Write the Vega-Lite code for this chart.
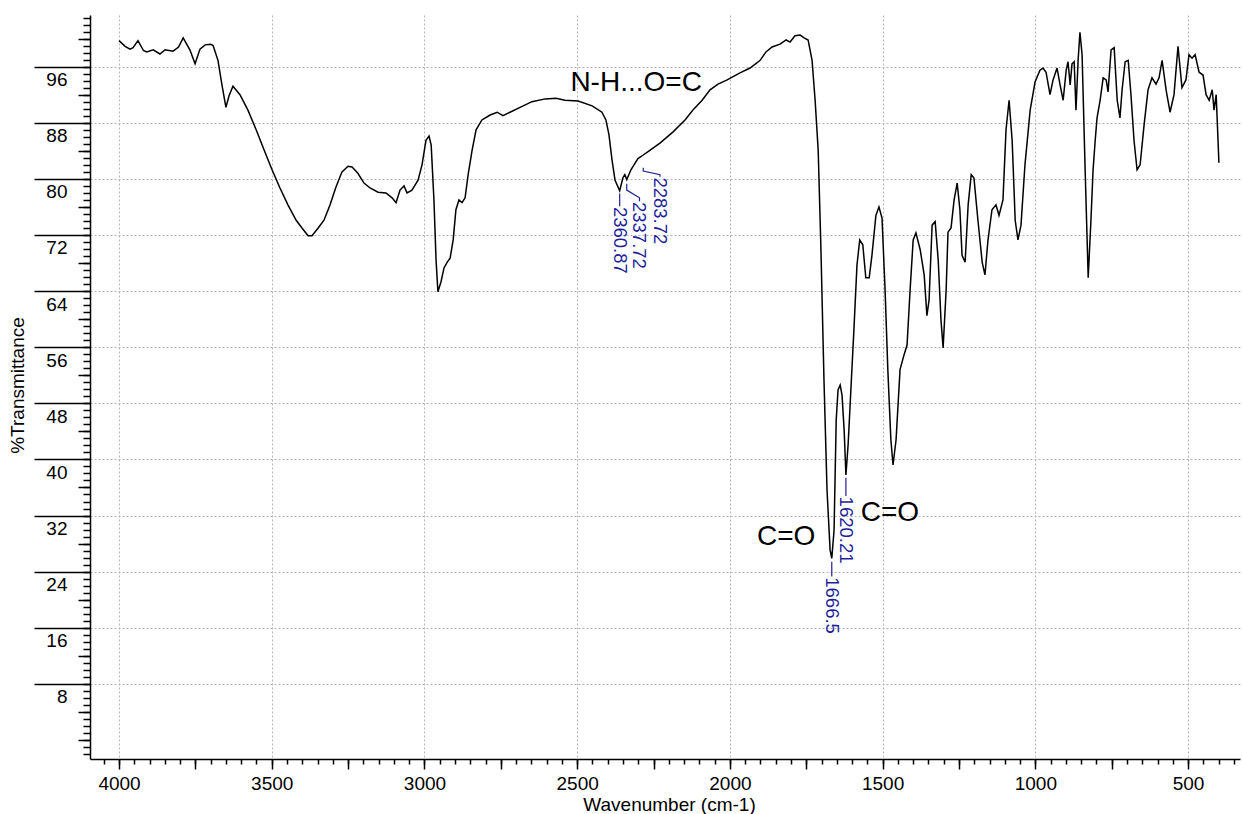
{
  "$schema": "https://vega.github.io/schema/vega-lite/v6.json",
  "width": 1150,
  "height": 744,
  "autosize": {"type": "none"},
  "padding": {"left": 90, "top": 15, "right": 2, "bottom": 55},
  "background": "white",
  "config": {"view": {"stroke": null}, "font": "Liberation Sans"},
  "datasets": {
    "spec": [
      {"w": 4000, "t": 99.7}, {"w": 3980, "t": 98.9}, {"w": 3964, "t": 98.5}, {"w": 3954, "t": 98.7}, {"w": 3938, "t": 99.7},
      {"w": 3920, "t": 98.3}, {"w": 3909, "t": 98.1}, {"w": 3888, "t": 98.4}, {"w": 3866, "t": 97.8}, {"w": 3849, "t": 98.4},
      {"w": 3823, "t": 98.2}, {"w": 3805, "t": 98.8}, {"w": 3790, "t": 100.1}, {"w": 3768, "t": 98.4}, {"w": 3751, "t": 96.4},
      {"w": 3735, "t": 98.5}, {"w": 3718, "t": 99.1}, {"w": 3700, "t": 99.2}, {"w": 3692, "t": 99.0}, {"w": 3676, "t": 96.9},
      {"w": 3663, "t": 93.4}, {"w": 3650, "t": 90.2}, {"w": 3640, "t": 91.8}, {"w": 3627, "t": 93.2}, {"w": 3604, "t": 92.0},
      {"w": 3578, "t": 89.8}, {"w": 3551, "t": 87.0}, {"w": 3525, "t": 84.1}, {"w": 3499, "t": 81.3}, {"w": 3473, "t": 78.7},
      {"w": 3447, "t": 76.3}, {"w": 3420, "t": 74.1}, {"w": 3401, "t": 73.0}, {"w": 3381, "t": 71.9}, {"w": 3368, "t": 71.9},
      {"w": 3348, "t": 73.0}, {"w": 3329, "t": 74.1}, {"w": 3309, "t": 76.3}, {"w": 3290, "t": 78.8}, {"w": 3270, "t": 81.0},
      {"w": 3250, "t": 81.8}, {"w": 3237, "t": 81.7}, {"w": 3218, "t": 80.8}, {"w": 3198, "t": 79.4}, {"w": 3178, "t": 78.7},
      {"w": 3152, "t": 78.1}, {"w": 3126, "t": 78.0}, {"w": 3106, "t": 77.3}, {"w": 3093, "t": 76.6}, {"w": 3080, "t": 78.4},
      {"w": 3067, "t": 79.0}, {"w": 3057, "t": 78.0}, {"w": 3041, "t": 78.4}, {"w": 3021, "t": 79.8}, {"w": 3008, "t": 82.0},
      {"w": 2995, "t": 85.5}, {"w": 2985, "t": 86.1}, {"w": 2978, "t": 84.8}, {"w": 2969, "t": 77.0}, {"w": 2962, "t": 68.4},
      {"w": 2956, "t": 63.9}, {"w": 2946, "t": 65.3}, {"w": 2936, "t": 67.3}, {"w": 2926, "t": 68.1}, {"w": 2916, "t": 68.7},
      {"w": 2906, "t": 71.3}, {"w": 2897, "t": 75.6}, {"w": 2887, "t": 77.0}, {"w": 2877, "t": 76.6}, {"w": 2867, "t": 77.3},
      {"w": 2857, "t": 80.6}, {"w": 2844, "t": 84.1}, {"w": 2831, "t": 87.0}, {"w": 2812, "t": 88.4}, {"w": 2785, "t": 89.1},
      {"w": 2762, "t": 89.5}, {"w": 2743, "t": 89.0}, {"w": 2720, "t": 89.5}, {"w": 2687, "t": 90.2}, {"w": 2648, "t": 91.0},
      {"w": 2605, "t": 91.4}, {"w": 2569, "t": 91.5}, {"w": 2540, "t": 91.2}, {"w": 2497, "t": 91.1}, {"w": 2451, "t": 90.4},
      {"w": 2419, "t": 89.5}, {"w": 2406, "t": 88.4}, {"w": 2396, "t": 86.3}, {"w": 2386, "t": 82.7}, {"w": 2376, "t": 79.8},
      {"w": 2360.87, "t": 78.3}, {"w": 2350, "t": 80.2}, {"w": 2344, "t": 80.6}, {"w": 2337.72, "t": 79.9}, {"w": 2324, "t": 81.3},
      {"w": 2314, "t": 82.0}, {"w": 2301, "t": 82.9}, {"w": 2283.72, "t": 83.4}, {"w": 2261, "t": 84.1}, {"w": 2229, "t": 85.1},
      {"w": 2186, "t": 86.7}, {"w": 2147, "t": 88.4}, {"w": 2121, "t": 89.8}, {"w": 2091, "t": 91.2}, {"w": 2065, "t": 92.7},
      {"w": 2039, "t": 93.5}, {"w": 2009, "t": 94.1}, {"w": 1967, "t": 95.1}, {"w": 1934, "t": 95.8}, {"w": 1901, "t": 96.9},
      {"w": 1882, "t": 98.1}, {"w": 1862, "t": 98.8}, {"w": 1836, "t": 99.2}, {"w": 1816, "t": 99.8}, {"w": 1803, "t": 99.5},
      {"w": 1787, "t": 100.4}, {"w": 1770, "t": 100.5}, {"w": 1757, "t": 100.1}, {"w": 1744, "t": 99.8}, {"w": 1731, "t": 96.9},
      {"w": 1721, "t": 91.2}, {"w": 1711, "t": 84.1}, {"w": 1702, "t": 70.0}, {"w": 1692, "t": 51.3}, {"w": 1682, "t": 35.6},
      {"w": 1672, "t": 27.1}, {"w": 1666.5, "t": 25.9}, {"w": 1659, "t": 29.9}, {"w": 1652, "t": 45.6}, {"w": 1646, "t": 49.9},
      {"w": 1639, "t": 50.6}, {"w": 1633, "t": 49.2}, {"w": 1626, "t": 44.2}, {"w": 1620.21, "t": 37.8}, {"w": 1613, "t": 42.1},
      {"w": 1604, "t": 49.9}, {"w": 1594, "t": 58.5}, {"w": 1584, "t": 67.7}, {"w": 1575, "t": 71.3}, {"w": 1565, "t": 70.6},
      {"w": 1555, "t": 65.9}, {"w": 1544, "t": 65.9}, {"w": 1535, "t": 69.1}, {"w": 1522, "t": 74.8}, {"w": 1512, "t": 76.0},
      {"w": 1502, "t": 74.4}, {"w": 1492, "t": 64.2}, {"w": 1483, "t": 52.8}, {"w": 1473, "t": 42.8}, {"w": 1466, "t": 39.2},
      {"w": 1456, "t": 42.8}, {"w": 1443, "t": 52.8}, {"w": 1430, "t": 54.9}, {"w": 1420, "t": 56.3}, {"w": 1410, "t": 64.2},
      {"w": 1400, "t": 71.3}, {"w": 1391, "t": 72.3}, {"w": 1377, "t": 69.9}, {"w": 1364, "t": 66.3}, {"w": 1355, "t": 60.5},
      {"w": 1348, "t": 62.7}, {"w": 1338, "t": 73.4}, {"w": 1328, "t": 73.9}, {"w": 1318, "t": 68.4}, {"w": 1309, "t": 59.9},
      {"w": 1302, "t": 55.9}, {"w": 1292, "t": 64.2}, {"w": 1286, "t": 72.4}, {"w": 1276, "t": 73.0}, {"w": 1266, "t": 77.0},
      {"w": 1256, "t": 79.4}, {"w": 1247, "t": 75.6}, {"w": 1240, "t": 69.1}, {"w": 1230, "t": 68.1}, {"w": 1220, "t": 76.3},
      {"w": 1210, "t": 80.6}, {"w": 1201, "t": 80.1}, {"w": 1188, "t": 74.1}, {"w": 1174, "t": 68.1}, {"w": 1165, "t": 66.3},
      {"w": 1155, "t": 71.3}, {"w": 1142, "t": 75.6}, {"w": 1129, "t": 76.3}, {"w": 1119, "t": 74.8}, {"w": 1106, "t": 77.0},
      {"w": 1096, "t": 87.0}, {"w": 1086, "t": 91.2}, {"w": 1076, "t": 85.5}, {"w": 1066, "t": 74.1}, {"w": 1057, "t": 71.3},
      {"w": 1047, "t": 73.4}, {"w": 1034, "t": 82.0}, {"w": 1017, "t": 89.8}, {"w": 1001, "t": 93.8}, {"w": 985, "t": 95.5},
      {"w": 975, "t": 95.8}, {"w": 965, "t": 95.2}, {"w": 952, "t": 92.0}, {"w": 942, "t": 94.1}, {"w": 929, "t": 95.8},
      {"w": 919, "t": 93.4}, {"w": 909, "t": 91.2}, {"w": 899, "t": 95.5}, {"w": 893, "t": 96.7}, {"w": 886, "t": 93.4},
      {"w": 880, "t": 96.4}, {"w": 873, "t": 96.7}, {"w": 867, "t": 89.8}, {"w": 860, "t": 96.9}, {"w": 854, "t": 100.9},
      {"w": 847, "t": 97.7}, {"w": 837, "t": 81.3}, {"w": 827, "t": 65.9}, {"w": 818, "t": 74.1}, {"w": 811, "t": 81.3},
      {"w": 804, "t": 85.5}, {"w": 798, "t": 88.7}, {"w": 788, "t": 91.2}, {"w": 778, "t": 94.4}, {"w": 768, "t": 94.1},
      {"w": 762, "t": 92.4}, {"w": 752, "t": 98.4}, {"w": 742, "t": 98.7}, {"w": 732, "t": 91.2}, {"w": 723, "t": 88.7},
      {"w": 716, "t": 92.7}, {"w": 706, "t": 96.7}, {"w": 696, "t": 96.9}, {"w": 687, "t": 92.0}, {"w": 677, "t": 85.5},
      {"w": 667, "t": 81.3}, {"w": 657, "t": 82.0}, {"w": 644, "t": 87.7}, {"w": 631, "t": 92.7}, {"w": 618, "t": 94.4},
      {"w": 605, "t": 93.5}, {"w": 595, "t": 94.4}, {"w": 585, "t": 96.9}, {"w": 572, "t": 92.7}, {"w": 559, "t": 89.5},
      {"w": 546, "t": 92.0}, {"w": 533, "t": 98.9}, {"w": 520, "t": 93.0}, {"w": 507, "t": 94.1}, {"w": 497, "t": 97.7},
      {"w": 487, "t": 97.2}, {"w": 477, "t": 97.7}, {"w": 464, "t": 95.2}, {"w": 451, "t": 94.8}, {"w": 441, "t": 92.0},
      {"w": 431, "t": 91.2}, {"w": 421, "t": 92.7}, {"w": 415, "t": 89.8}, {"w": 408, "t": 92.0}, {"w": 399, "t": 82.3}
    ],
    "leaders": [
      {"id": "a", "o": 1, "w": 1666.5, "t": 25.4}, {"id": "a", "o": 2, "w": 1666.5, "t": 23.3},
      {"id": "b", "o": 1, "w": 1620.21, "t": 37.4}, {"id": "b", "o": 2, "w": 1620.21, "t": 34.8},
      {"id": "c", "o": 1, "w": 2360.87, "t": 77.9}, {"id": "c", "o": 2, "w": 2360.87, "t": 76.1},
      {"id": "d", "o": 1, "w": 2337.72, "t": 79.3}, {"id": "d", "o": 2, "w": 2337.72, "t": 78.4},
      {"id": "d", "o": 3, "w": 2296, "t": 77.3}, {"id": "d", "o": 4, "w": 2296, "t": 76.8},
      {"id": "e", "o": 1, "w": 2283.72, "t": 81.6}, {"id": "e", "o": 2, "w": 2283.72, "t": 81.1},
      {"id": "e", "o": 3, "w": 2229, "t": 80.6}, {"id": "e", "o": 4, "w": 2229, "t": 80.3}
    ],
    "peaks": [
      {"label": "1666.5", "w": 1666.5, "t": 23.2},
      {"label": "1620.21", "w": 1620.21, "t": 34.7},
      {"label": "2360.87", "w": 2360.87, "t": 76.0},
      {"label": "2337.72", "w": 2296, "t": 76.7},
      {"label": "2283.72", "w": 2229, "t": 80.2}
    ],
    "notes": [
      {"label": "N-H...O=C", "w": 2307, "t": 93.6},
      {"label": "C=O", "w": 1816, "t": 29.0},
      {"label": "C=O", "w": 1476, "t": 32.4}
    ]
  },
  "resolve": {"axis": {"x": "independent", "y": "independent"}},
  "layer": [
    {
      "data": {"name": "spec"},
      "mark": {"type": "line", "color": "black", "strokeWidth": 1.5, "interpolate": "linear"},
      "encoding": {
        "x": {
          "field": "w", "type": "quantitative", "sort": null,
          "scale": {"domain": [330, 4095], "reverse": true, "nice": false, "zero": false},
          "axis": {
            "orient": "bottom",
            "values": [4000, 3500, 3000, 2500, 2000, 1500, 1000, 500],
            "format": "d",
            "grid": true, "gridColor": "#b4b4b4", "gridDash": [2, 2], "gridWidth": 1,
            "ticks": true, "tickSize": 10, "tickColor": "black", "tickWidth": 1.5,
            "domain": true, "domainColor": "black", "domainWidth": 1.5,
            "labelFont": "Liberation Sans", "labelFontSize": 19, "labelColor": "black", "labelPadding": 5,
            "labelFlush": false, "labelOverlap": false,
            "title": "Wavenumber (cm-1)", "titleFont": "Liberation Sans", "titleFontSize": 19,
            "titleFontWeight": "normal", "titleColor": "black",
            "titleX": 579, "titleY": 51, "titleAlign": "center", "titleBaseline": "alphabetic"
          }
        },
        "y": {
          "field": "t", "type": "quantitative",
          "scale": {"domain": [-2.71, 103.36], "nice": false, "zero": false},
          "axis": {
            "orient": "left",
            "values": [8, 16, 24, 32, 40, 48, 56, 64, 72, 80, 88, 96],
            "grid": true, "gridColor": "#b4b4b4", "gridDash": [2, 2], "gridWidth": 1,
            "ticks": true, "tickSize": 56, "tickColor": "black", "tickWidth": 1.5,
            "domain": true, "domainColor": "black", "domainWidth": 1.5,
            "labels": false,
            "title": "%Transmittance", "titleFont": "Liberation Sans", "titleFontSize": 19,
            "titleFontWeight": "normal", "titleColor": "black",
            "titleX": -73, "titleY": 370, "titleAngle": 270, "titleAlign": "center", "titleBaseline": "middle"
          }
        }
      }
    },
    {
      "mark": {"type": "rule", "color": "#b4b4b4", "strokeDash": [2, 2], "strokeWidth": 1},
      "encoding": {
        "y": {"datum": 0, "type": "quantitative", "scale": {"domain": [-2.71, 103.36], "nice": false, "zero": false}, "axis": null}
      }
    },
    {
      "data": {"name": "notes"},
      "mark": {"type": "point", "opacity": 0},
      "encoding": {
        "x": {
          "field": "w", "type": "quantitative",
          "scale": {"domain": [330, 4095], "reverse": true, "nice": false, "zero": false},
          "axis": {
            "orient": "bottom", "values": [3750, 3250, 2750, 2250, 1750, 1250, 750],
            "grid": false, "domain": false, "labels": false, "title": null,
            "ticks": true, "tickSize": 10, "tickColor": "black", "tickWidth": 1.5
          }
        },
        "y": {
          "field": "t", "type": "quantitative",
          "scale": {"domain": [-2.71, 103.36], "nice": false, "zero": false},
          "axis": {
            "orient": "left", "values": [0, 4, 12, 20, 28, 36, 44, 52, 60, 68, 76, 84, 92, 100],
            "grid": false, "domain": false, "labels": false, "title": null,
            "ticks": true, "tickSize": 12, "tickColor": "black", "tickWidth": 1.5
          }
        }
      }
    },
    {
      "data": {"name": "notes"},
      "mark": {"type": "point", "opacity": 0},
      "encoding": {
        "x": {
          "field": "w", "type": "quantitative",
          "scale": {"domain": [330, 4095], "reverse": true, "nice": false, "zero": false},
          "axis": {
            "orient": "bottom",
            "values": [350, 400, 450, 500, 550, 600, 650, 700, 750, 800, 850, 900, 950, 1000, 1050, 1100, 1150, 1200, 1250, 1300, 1350, 1400, 1450, 1500, 1550, 1600, 1650, 1700, 1750, 1800, 1850, 1900, 1950, 2000, 2050, 2100, 2150, 2200, 2250, 2300, 2350, 2400, 2450, 2500, 2550, 2600, 2650, 2700, 2750, 2800, 2850, 2900, 2950, 3000, 3050, 3100, 3150, 3200, 3250, 3300, 3350, 3400, 3450, 3500, 3550, 3600, 3650, 3700, 3750, 3800, 3850, 3900, 3950, 4000, 4050],
            "grid": false, "domain": false, "labels": false, "title": null,
            "ticks": true, "tickSize": 5, "tickColor": "black", "tickWidth": 1.5
          }
        },
        "y": {
          "field": "t", "type": "quantitative",
          "scale": {"domain": [-2.71, 103.36], "nice": false, "zero": false},
          "axis": {
            "orient": "left",
            "values": [-2, -1, 0, 1, 2, 3, 4, 5, 6, 7, 8, 9, 10, 11, 12, 13, 14, 15, 16, 17, 18, 19, 20, 21, 22, 23, 24, 25, 26, 27, 28, 29, 30, 31, 32, 33, 34, 35, 36, 37, 38, 39, 40, 41, 42, 43, 44, 45, 46, 47, 48, 49, 50, 51, 52, 53, 54, 55, 56, 57, 58, 59, 60, 61, 62, 63, 64, 65, 66, 67, 68, 69, 70, 71, 72, 73, 74, 75, 76, 77, 78, 79, 80, 81, 82, 83, 84, 85, 86, 87, 88, 89, 90, 91, 92, 93, 94, 95, 96, 97, 98, 99, 100, 101, 102, 103],
            "grid": false, "domain": false, "labels": false, "title": null,
            "ticks": true, "tickSize": 7, "tickColor": "black", "tickWidth": 1.5
          }
        }
      }
    },
    {
      "data": {"name": "notes"},
      "mark": {"type": "point", "opacity": 0},
      "encoding": {
        "x": {
          "field": "w", "type": "quantitative",
          "scale": {"domain": [330, 4095], "reverse": true, "nice": false, "zero": false},
          "axis": null
        },
        "y": {
          "field": "t", "type": "quantitative",
          "scale": {"domain": [-2.71, 103.36], "nice": false, "zero": false},
          "axis": {
            "orient": "left",
            "values": [8, 16, 24, 32, 40, 48, 56, 64, 72, 80, 88, 96],
            "grid": false, "domain": false, "ticks": false, "tickSize": 0, "title": null,
            "labels": true, "labelPadding": 23, "labelOffset": 13, "labelBaseline": "middle", "labelAlign": "right",
            "labelFont": "Liberation Sans", "labelFontSize": 19, "labelColor": "black",
            "labelFlush": false, "labelOverlap": false
          }
        }
      }
    },
    {
      "data": {"name": "leaders"},
      "mark": {"type": "line", "color": "#1f1f9a", "strokeWidth": 1.2},
      "encoding": {
        "x": {"field": "w", "type": "quantitative", "scale": {"domain": [330, 4095], "reverse": true, "nice": false, "zero": false}, "axis": null},
        "y": {"field": "t", "type": "quantitative", "scale": {"domain": [-2.71, 103.36], "nice": false, "zero": false}, "axis": null},
        "detail": {"field": "id"},
        "order": {"field": "o"}
      }
    },
    {
      "data": {"name": "peaks"},
      "mark": {"type": "text", "angle": 90, "align": "left", "baseline": "middle", "font": "Liberation Sans", "fontSize": 18.5, "color": "#1f1f9a"},
      "encoding": {
        "x": {"field": "w", "type": "quantitative", "scale": {"domain": [330, 4095], "reverse": true, "nice": false, "zero": false}, "axis": null},
        "y": {"field": "t", "type": "quantitative", "scale": {"domain": [-2.71, 103.36], "nice": false, "zero": false}, "axis": null},
        "text": {"field": "label"}
      }
    },
    {
      "data": {"name": "notes"},
      "mark": {"type": "text", "align": "center", "baseline": "middle", "font": "Liberation Sans", "fontSize": 28, "color": "black"},
      "encoding": {
        "x": {"field": "w", "type": "quantitative", "scale": {"domain": [330, 4095], "reverse": true, "nice": false, "zero": false}, "axis": null},
        "y": {"field": "t", "type": "quantitative", "scale": {"domain": [-2.71, 103.36], "nice": false, "zero": false}, "axis": null},
        "text": {"field": "label"}
      }
    }
  ]
}
